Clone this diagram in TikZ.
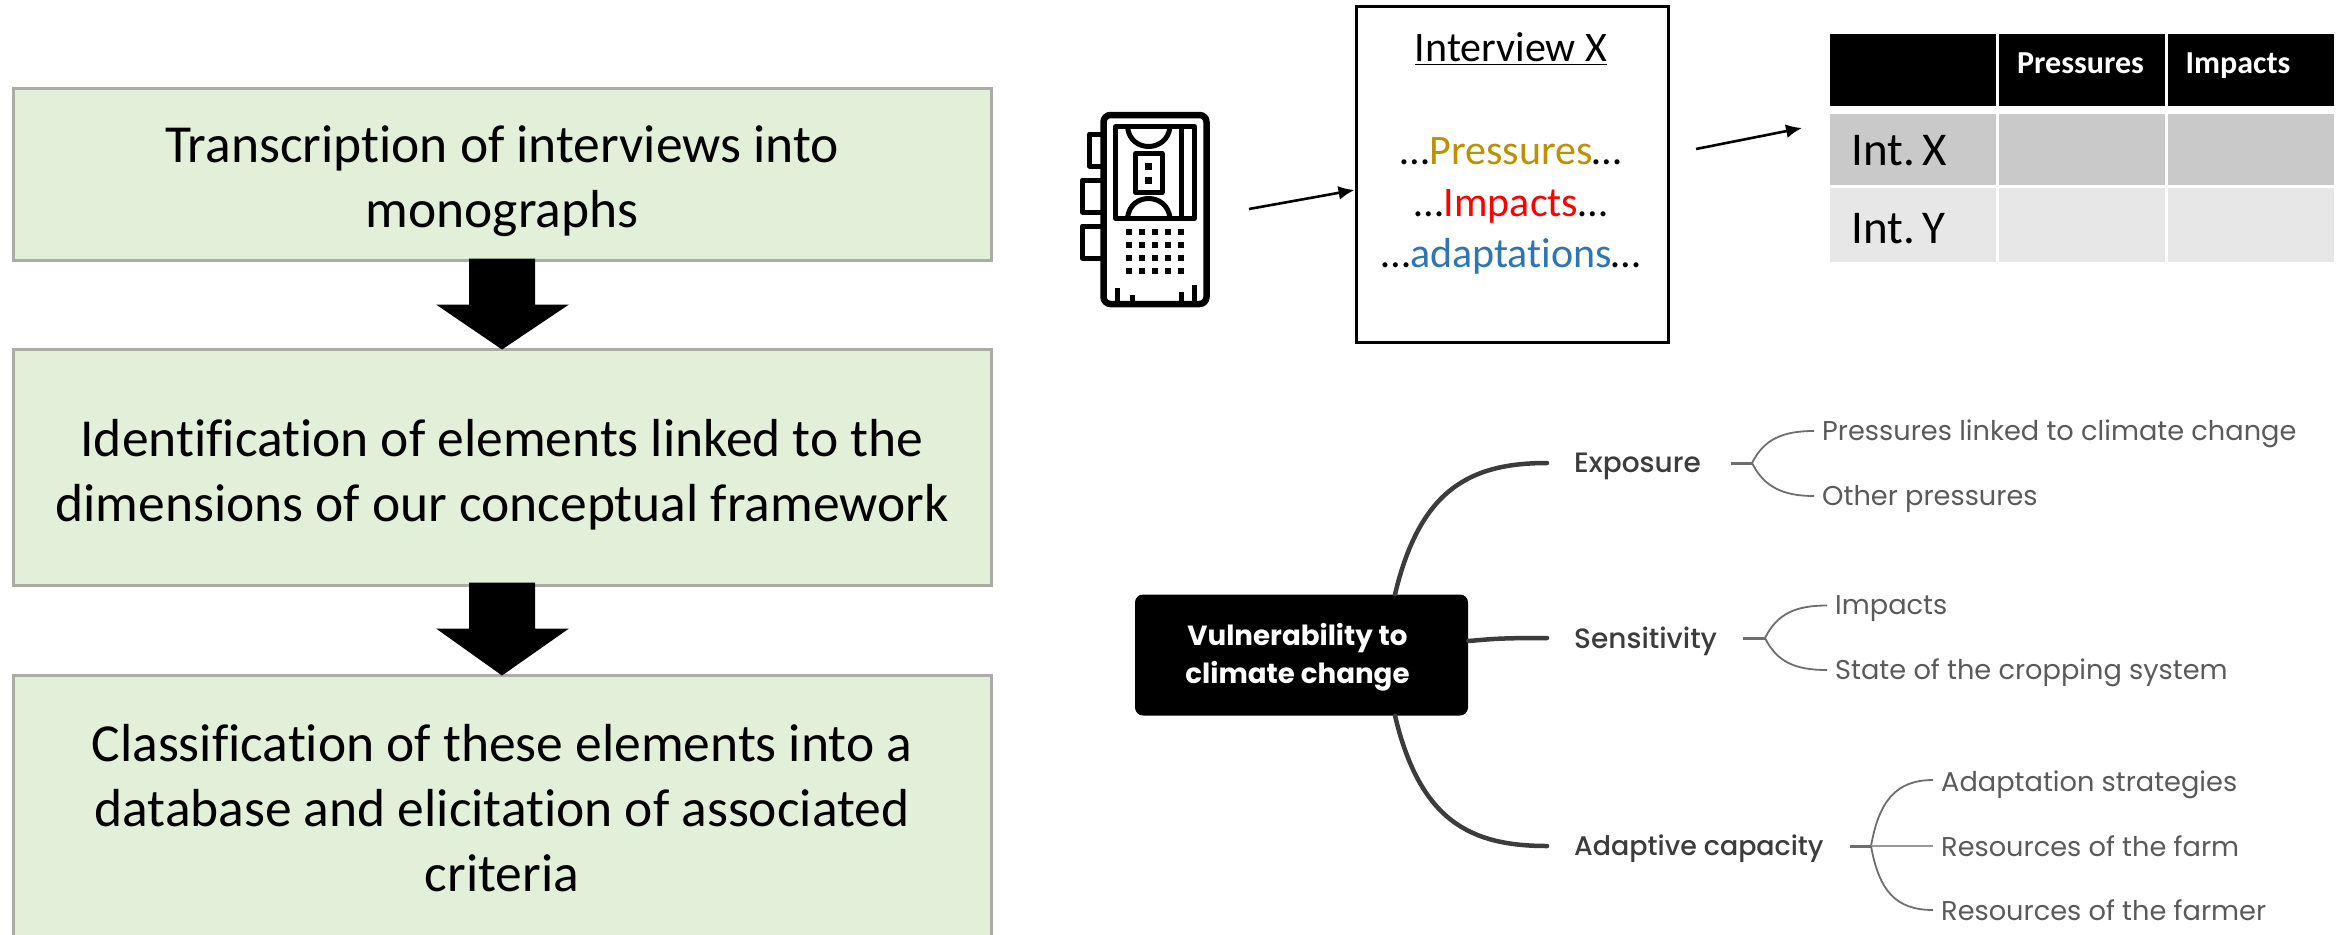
\documentclass[tikz,border=0pt]{standalone}
\usepackage{fontspec}
\usetikzlibrary{arrows.meta,calc}
\setmainfont[Ligatures=NoCommon]{Carlito}
\newfontfamily\popf{Poppins}
\newfontfamily\popm{Poppins Medium}
\definecolor{boxgreen}{HTML}{E2EFD9}
\definecolor{boxline}{HTML}{A9ADA6}
\definecolor{goldtxt}{HTML}{BF9000}
\definecolor{redtxt}{HTML}{FF0000}
\definecolor{bluetxt}{HTML}{2E75B6}
\definecolor{rowa}{HTML}{C9C9C9}
\definecolor{rowb}{HTML}{E7E7E7}
\definecolor{mapdark}{HTML}{3C3C3C}
\definecolor{mapline}{HTML}{6E6E6E}
\definecolor{maptxt}{HTML}{5A5A5A}
\tikzset{
  x=1pt,y=-1pt,
  stepbox/.style={draw=boxline,line width=3pt,fill=boxgreen,minimum width=978pt,inner sep=0pt,align=center,font=\fontsize{53.5}{65}\selectfont},
  blockarrow/.style={fill=black},
  thinarrow/.style={line width=2.6pt,-{Latex[length=16pt,width=14pt]}},
  cell/.style={minimum width=166pt,minimum height=71.5pt,inner sep=0pt,outer sep=0pt},
  headcell/.style={cell,fill=black,minimum height=72pt},
  rowacell/.style={cell,fill=rowa},
  rowbcell/.style={cell,fill=rowb,minimum height=74pt},
  headtxt/.style={inner sep=0pt,text=white,font=\fontsize{32}{36}\selectfont\bfseries},
  rowtxt/.style={inner sep=0pt,anchor=base west,font=\fontsize{47}{60}\selectfont},
  intvtxt/.style={inner sep=0pt,anchor=base,font=\fontsize{42}{50}\selectfont},
  branch/.style={line width=4.5pt,draw=mapdark,line cap=round},
  stub/.style={line width=3pt,draw=mapline},
  leafline/.style={line width=1.8pt,draw=mapline},
  dimtxt/.style={inner sep=0pt,anchor=west,text=mapdark,font=\popm\fontsize{28}{30}\selectfont},
  leaftxt/.style={inner sep=0pt,anchor=west,text=maptxt,font=\popf\fontsize{27.2}{30}\selectfont},
  iconline/.style={draw=black,line width=5pt,line join=round},
}
\begin{document}
\begin{tikzpicture}
\useasboundingbox (0,0) rectangle (2341,934);
\clip (0,0) rectangle (2341,934);

% flow boxes
\node[stepbox,minimum height=172pt] (b1) at (502,174) {\rule{0pt}{52pt}Transcription of interviews into\\monographs};
\node[stepbox,minimum height=236pt] (b2) at (502,467) {\rule{0pt}{52pt}Identification of elements linked to the\\dimensions of our conceptual framework};
\node[stepbox,minimum height=266pt] (b3) at (502,808) {Classification of these elements into a\\database and elicitation of associated\\criteria};
\fill[blockarrow] (b1.south) ++(-33,-3) -- ++(0,46) -- ++(-33,0) -- ($(b2.north)+(0,2)$) -- ($(b1.south)+(67,43)$) -- ++(-34,0) -- ++(0,-46) -- cycle;
\fill[blockarrow] (b2.south) ++(-33,-4) -- ++(0,46) -- ++(-33,0) -- ($(b3.north)+(0,2)$) -- ($(b2.south)+(67,42)$) -- ++(-34,0) -- ++(0,-46) -- cycle;

% recorder icon
\draw[iconline,line width=6.5pt,rounded corners=7pt] (1103.5,115) rectangle (1206.5,304);
\draw[iconline] (1103,134) -- (1089.5,134) -- (1089.5,166) -- (1103,166);
\draw[iconline] (1103,180) -- (1082.5,180) -- (1082.5,212) -- (1103,212);
\draw[iconline] (1103,226) -- (1082.5,226) -- (1082.5,258) -- (1103,258);
\draw[iconline] (1115.5,126.5) rectangle (1194.5,218.5);
\draw[iconline] (1181,126.5) -- (1181,218.5);
\draw[iconline] (1127.5,127) .. controls (1130,153) and (1167,153) .. (1170,127);
\draw[iconline] (1127.5,218) .. controls (1130,192) and (1167,192) .. (1170,218);
\draw[iconline] (1135.5,153.5) rectangle (1162,192.5);
\fill (1145,163) rectangle (1152,170);
\fill (1145,177) rectangle (1152,184);
\foreach \gy in {232,245,258,271}{
  \foreach \gx in {1129,1142,1155,1168,1181}{
    \fill (\gx-3.3,\gy-3.3) rectangle (\gx+3.3,\gy+3.3);
  }
}
\draw[iconline] (1117,288) -- (1117,302);
\draw[iconline] (1132,295) -- (1132,302);
\draw[iconline] (1181,292) -- (1181,302);
\draw[iconline] (1194,285) -- (1194,302);

% interview box
\node[draw=black,line width=3pt,minimum width=312pt,minimum height=335pt,inner sep=0pt] (intv) at (1512,174.5) {};
\node[intvtxt] (ititle) at (1511,62) {\underline{Interview X}};
\node[intvtxt] (ipress) at (1511,164) {…\textcolor{goldtxt}{Pressures}…};
\node[intvtxt] (iimp) at (1511,216) {…\textcolor{redtxt}{Impacts}…};
\node[intvtxt] (iadapt) at (1511,267) {…\textcolor{bluetxt}{adaptations}…};

\coordinate (recout) at (1249,209);
\coordinate (intvout) at (1696,149);
\coordinate (tablein) at (1802,128);
\draw[thinarrow] (recout) -- ([yshift=-15.5pt]intv.west);
\draw[thinarrow] (intvout) -- (tablein);

% table
\node[headcell] (h0) at (1913,70) {};
\node[headcell] (h1) at (2082,70) {};
\node[headcell] (h2) at (2251,70) {};
\node[rowacell] (xa) at (1913,149.5) {};
\node[rowacell] (xb) at (2082,149.5) {};
\node[rowacell] (xc) at (2251,149.5) {};
\node[rowbcell] (ya) at (1913,225) {};
\node[rowbcell] (yb) at (2082,225) {};
\node[rowbcell] (yc) at (2251,225) {};
\node[headtxt,anchor=base] (hp) at (2080.5,74) {Pressures};
\node[headtxt,anchor=base] (hi) at (2238,74) {Impacts};
\node[rowtxt] (ix) at (1851,165) {Int.\hspace{.16em}X};
\node[rowtxt] (iy) at (1851,243) {Int.\hspace{.16em}Y};

% mind map
\node[fill=black,rounded corners=8pt,minimum width=333pt,minimum height=121pt,inner sep=0pt,align=center,text=white,font=\popf\bfseries\fontsize{27.7}{38}\selectfont] (vuln) at (1301.5,655) {\rule{0pt}{26pt}Vulnerability to\hspace*{8pt}\\climate change\hspace*{8pt}};
\node[dimtxt] (expo) at (1574,466) {Exposure};
\node[dimtxt] (sens) at (1574,641) {Sensitivity};
\node[dimtxt,font=\popm\fontsize{26.9}{30}\selectfont] (adap) at (1574,849) {Adaptive capacity};
\node[leaftxt] (l1) at (1822,434) {Pressures linked to climate change};
\node[leaftxt] (l2) at (1822,499) {Other pressures};
\node[leaftxt] (l3) at (1835,609) {Impacts};
\node[leaftxt] (l4) at (1835,673) {State of the cropping system};
\node[leaftxt] (l5) at (1941,784.5) {Adaptation strategies};
\node[leaftxt] (l6) at (1941,846) {Resources of the farm};
\node[leaftxt] (l7) at (1941,910.5) {Resources of the farmer};

\coordinate (te) at (1547,463);
\coordinate (ts) at (1547,638);
\coordinate (ta) at (1547,846);
\draw[branch] ([xshift=93.5pt]vuln.north) .. controls +(25,-105) and ($(te)+(-77,0)$) .. (te);
\draw[branch] (vuln.east |- 0,641) .. controls +(25,-2) and ($(ts)+(-50,0)$) .. (ts);
\draw[branch] ([xshift=93.5pt]vuln.south) .. controls +(25,105) and ($(ta)+(-77,0)$) .. (ta);

\coordinate (be) at (1752,463);
\coordinate (bs) at (1765,638);
\coordinate (ba) at (1871,846);
\coordinate (e1) at (1814,431);
\coordinate (e2) at (1814,496);
\coordinate (e3) at (1827,605.5);
\coordinate (e4) at (1827,670);
\coordinate (e5) at (1933,780);
\coordinate (e6) at (1933,846);
\coordinate (e7) at (1933,910);
\draw[stub] ([xshift=-21pt]be) -- (be);
\draw[stub] ([xshift=-22pt]bs) -- (bs);
\draw[stub] ([xshift=-21pt]ba) -- (ba);
\draw[leafline] (be) .. controls +(12,-24) and ($(e1)+(-31,0)$) .. (e1);
\draw[leafline] (be) .. controls +(12,24) and ($(e2)+(-31,0)$) .. (e2);
\draw[leafline] (bs) .. controls +(12,-24) and ($(e3)+(-32,0)$) .. (e3);
\draw[leafline] (bs) .. controls +(12,24) and ($(e4)+(-32,0)$) .. (e4);
\draw[leafline] (ba) .. controls +(8,-45) and ($(e5)+(-37,0)$) .. (e5);
\draw[leafline,draw=mapline!70] (ba) -- (e6);
\draw[leafline] (ba) .. controls +(8,45) and ($(e7)+(-37,0)$) .. (e7);
\end{tikzpicture}
\end{document}
